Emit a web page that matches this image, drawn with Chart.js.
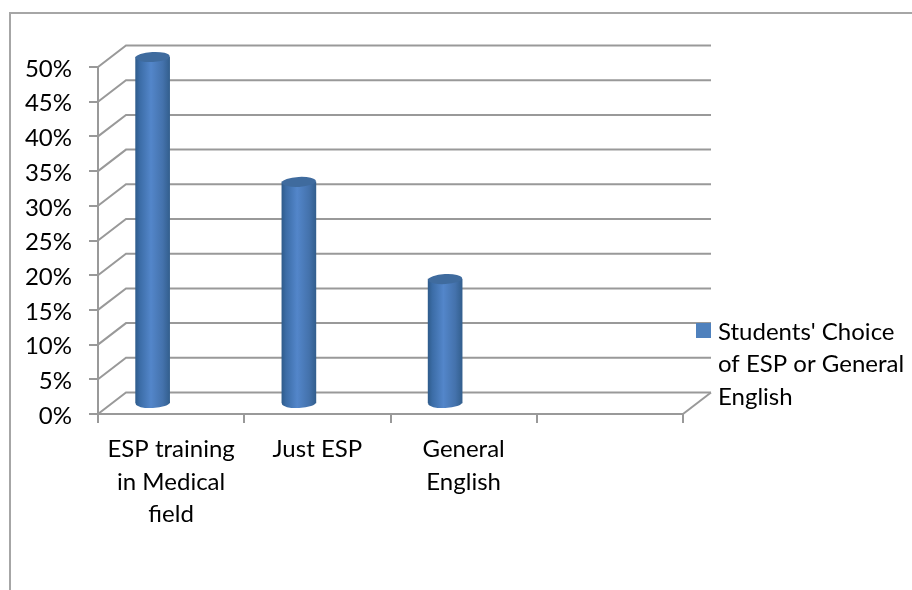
<!DOCTYPE html>
<html>
<head>
<meta charset="utf-8">
<script src="https://cdn.jsdelivr.net/npm/chart.js@4/dist/chart.umd.min.js"></script>
<style>
  html, body { margin: 0; padding: 0; background: #fff; overflow: hidden; }
  #frame { position: absolute; left: 9px; top: 12px; width: 910px; height: 590px;
           border: 2px solid #a6a6a6; box-sizing: border-box; }
  canvas { position: absolute; left: 0; top: 0; }
</style>
</head>
<body>
<div id="frame"></div>
<canvas id="chart" width="912" height="590"></canvas>
<script>
// data
const categories = [['ESP training', 'in Medical', 'field'], 'Just ESP', ['General', 'English'], ''];
const choiceValues = [50, 32, 18, null];
const legendLines = ["Students' Choice", 'of ESP or General', 'English'];

const FONT = 'Lato, Carlito, Calibri, sans-serif';
const GRID = '#999999';

// fake 3D: depth of the back wall and where the cylinders sit
const depthX = 28, depthY = 21.5;
const barShiftX = -18.5, barShiftY = -10;
const capRx = 17, capRy = 5;

function barGradient(ctx, x) {
  const g = ctx.createLinearGradient(x - capRx, 0, x + capRx, 0);
  g.addColorStop(0, '#2f5c8c');
  g.addColorStop(0.12, '#3b6ca6');
  g.addColorStop(0.45, '#5386ca');
  g.addColorStop(0.8, '#4472ac');
  g.addColorStop(1, '#335f8e');
  return g;
}

function barFill(c) {
  // the scale has no pixels yet on the first option pass
  const x = c.chart.scales.x ? c.chart.scales.x.getPixelForValue(c.dataIndex) : NaN;
  return Number.isFinite(x) ? barGradient(c.chart.ctx, x) : '#4f81bd';
}

const walls = {
  id: 'walls',
  beforeDatasetsDraw(chart) {
    const { ctx, chartArea: a, scales: { y } } = chart;
    ctx.save();
    ctx.strokeStyle = GRID;
    ctx.lineWidth = 2;
    y.ticks.forEach(t => {
      const py = y.getPixelForValue(t.value);
      ctx.beginPath();
      ctx.moveTo(a.left, py);
      ctx.lineTo(a.left + depthX, py - depthY);
      ctx.lineTo(a.right + depthX, py - depthY);
      ctx.stroke();
    });
    // right edge of the floor
    ctx.beginPath();
    ctx.moveTo(a.right, a.bottom);
    ctx.lineTo(a.right + depthX, a.bottom - depthY);
    ctx.stroke();
    ctx.restore();
  },
  beforeDatasetDraw(chart) {
    chart.ctx.save();
    chart.ctx.translate(barShiftX, barShiftY);
  },
  afterDatasetDraw(chart, args) {
    const ctx = chart.ctx;
    args.meta.data.forEach((bar, i) => {
      if (choiceValues[i] == null) return;
      // rounded bottom of the cylinder
      ctx.fillStyle = barGradient(ctx, bar.x);
      ctx.beginPath();
      ctx.ellipse(bar.x, bar.base, capRx, capRy, -0.05, 0, Math.PI * 2);
      ctx.fill();
      // top cap
      ctx.fillStyle = '#3f6b9e';
      ctx.beginPath();
      ctx.ellipse(bar.x, bar.y, capRx, capRy, -0.05, 0, Math.PI * 2);
      ctx.fill();
    });
    ctx.restore();
  },
  afterDraw(chart) {
    // legend, wrapped on three lines like the original
    const ctx = chart.ctx;
    ctx.save();
    ctx.fillStyle = '#4f81bd';
    ctx.fillRect(696, 323, 15, 15);
    ctx.fillStyle = '#000';
    ctx.font = '24px ' + FONT;
    ctx.textBaseline = 'middle';
    legendLines.forEach((line, i) => ctx.fillText(line, 718, 332 + i * 32.5));
    ctx.restore();
  }
};

new Chart(document.getElementById('chart'), {
  type: 'bar',
  data: {
    labels: categories,
    datasets: [{
      label: legendLines.join(' '),
      data: choiceValues,
      barThickness: 34,
      clip: false,
      backgroundColor: barFill
    }]
  },
  options: {
    responsive: false,
    animation: false,
    layout: { autoPadding: false, padding: { top: 67, right: 229, left: 0, bottom: 0 } },
    plugins: { legend: { display: false }, tooltip: { enabled: false } },
    scales: {
      x: {
        afterFit: s => { s.height = 176; },
        border: { color: GRID, width: 2 },
        grid: { color: GRID, lineWidth: 2, drawOnChartArea: false, tickLength: 9 },
        ticks: { color: '#000', font: { family: FONT, size: 24, lineHeight: 1.355 }, padding: 10, maxRotation: 0, autoSkip: false }
      },
      y: {
        min: 0,
        max: 50,
        afterFit: s => { s.width = 98; },
        border: { color: GRID, width: 2 },
        grid: { color: GRID, lineWidth: 2, drawOnChartArea: false, tickLength: 9 },
        ticks: { stepSize: 5, color: '#000', font: { family: FONT, size: 24 }, padding: 17, labelOffset: 2, callback: v => v + '%' }
      }
    }
  },
  plugins: [walls]
});
</script>
</body>
</html>
